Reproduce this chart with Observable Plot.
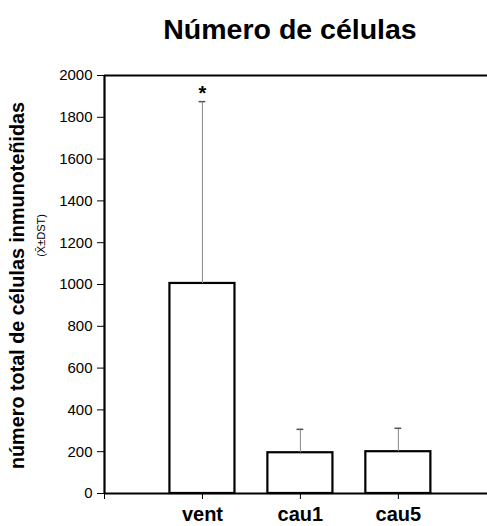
<!DOCTYPE html>
<html>
<head>
<meta charset="utf-8">
<script src="https://cdn.jsdelivr.net/npm/d3@7"></script>
<script src="https://cdn.jsdelivr.net/npm/@observablehq/plot@0.6"></script>
<style>
  html, body { margin: 0; padding: 0; background: #fff; }
  #chart svg { display: block; }
</style>
</head>
<body>
<div id="chart"></div>
<script>
const categories = ["vent", "cau1", "cau5"];
const means = [1005, 195, 200];
const meanPlusDST = [1875, 307, 312];
const marks = ["*", "", ""];
const yTicks = [0, 200, 400, 600, 800, 1000, 1200, 1400, 1600, 1800, 2000];
const titleText = "Número de células";
const yLabel = "número total de células inmunoteñidas";
const yLabel2 = "(X\u0304\u00B1DST)";

const data = categories.map((c, i) => ({
  cat: c, pos: i + 1, mean: means[i], upper: meanPlusDST[i], mark: marks[i]
}));

const font = "'Liberation Sans', Arial, Helvetica, sans-serif";
const halfW = 0.332;
const capW = 0.035;

const chart = Plot.plot({
  width: 487,
  height: 526,
  marginLeft: 104,
  marginRight: 0,
  marginTop: 75,
  marginBottom: 33,
  style: { fontFamily: font, background: "white", color: "black" },
  x: { type: "linear", domain: [0, 3.91] },
  y: { domain: [0, 2000] },
  marks: [
    Plot.rect(data, {
      x1: d => d.pos - halfW, x2: d => d.pos + halfW,
      y1: 0, y2: "mean",
      fill: "white", stroke: "black", strokeWidth: 2.2
    }),
    Plot.ruleX(data, { x: "pos", y1: "mean", y2: "upper", stroke: "#888", strokeWidth: 1 }),
    Plot.ruleY(data, { y: "upper", x1: d => d.pos - capW, x2: d => d.pos + capW, stroke: "#555", strokeWidth: 1.5 }),
    Plot.text(data, { x: "pos", y: "upper", text: "mark", dy: -8, fontSize: 20, fontWeight: "bold", fill: "black" }),
    Plot.axisY({ ticks: yTicks, tickSize: 7, tickPadding: 5, fontSize: 15, label: null, tickFormat: d => String(d) }),
    Plot.axisX({
      ticks: [0, 1, 2, 3], tickSize: 6, tickPadding: 7, fontSize: 20, fontWeight: "bold", label: null,
      tickFormat: i => i === 0 ? "" : categories[i - 1]
    }),
    Plot.ruleX([0], { stroke: "black", strokeWidth: 2.2 }),
    Plot.ruleY([0], { stroke: "black", strokeWidth: 2.2 }),
    Plot.ruleY([2000], { stroke: "black", strokeWidth: 2 }),
    Plot.text([titleText], { frameAnchor: "top", lineAnchor: "middle", textAnchor: "middle", dx: -6, dy: -46, text: d => d, fontSize: 28.5, fontWeight: "bold", fill: "black" }),
    Plot.text([yLabel], { frameAnchor: "left", lineAnchor: "middle", textAnchor: "middle", dx: -87, dy: 1, rotate: -90, text: d => d, fontSize: 19.8, fontWeight: "bold", fill: "black" }),
    Plot.text([yLabel2], { frameAnchor: "left", lineAnchor: "middle", textAnchor: "middle", dx: -63, dy: -49, rotate: -90, text: d => d, fontSize: 11, fill: "black" })
  ]
});
document.getElementById("chart").appendChild(chart);
</script>
</body>
</html>
